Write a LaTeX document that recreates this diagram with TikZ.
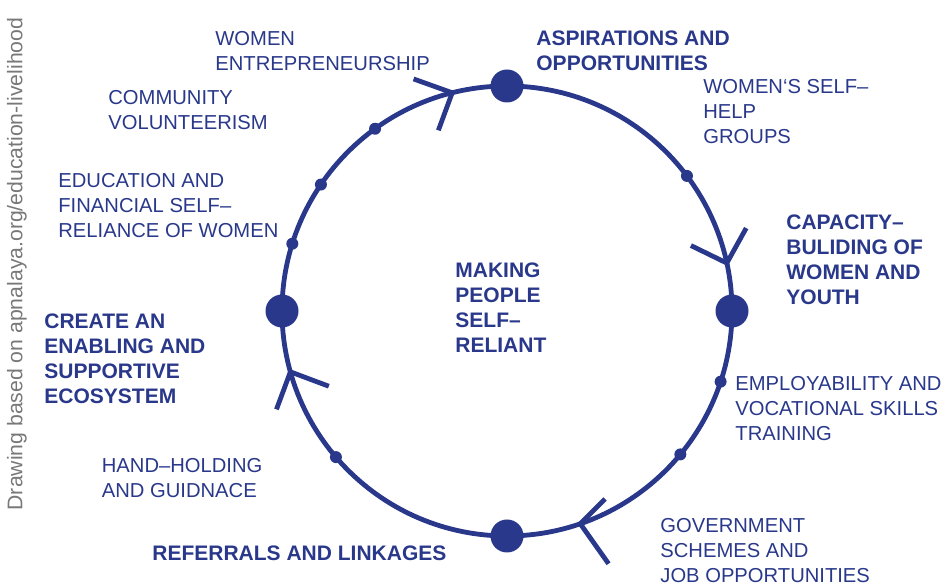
\documentclass[tikz,border=0pt]{standalone}
\usepackage{fontspec}
\setmainfont{Liberation Sans}
\definecolor{navy}{RGB}{41,56,138}
\definecolor{note}{RGB}{120,120,120}
\begin{document}
\begin{tikzpicture}[x=0.5pt, y=0.5pt, every node/.style={font=\fontsize{10.1}{12.5}\selectfont, text=navy, inner sep=0pt}]
  \tikzstyle{hub}=[circle,fill=navy,minimum size=16.5pt]
  \tikzstyle{pip}=[circle,fill=navy,minimum size=6pt]
  \tikzstyle{lbl}=[anchor=base west,align=left]
  \tikzstyle{head}=[lbl,font=\fontsize{10.5}{12.5}\selectfont\bfseries]
  \tikzstyle{arm}=[navy,line width=2.4pt]
  \useasboundingbox (0,0) rectangle (947,588);
  \coordinate (c) at (507,277);
  \draw[arm] (c) circle (225);
  \begin{scope}[shift={(c)}]
    \node[hub] (aspire) at (90:225) {};
    \node[hub] (capacity) at (0:225) {};
    \node[hub] (refer) at (-90:225) {};
    \node[hub] (enable) at (180:225) {};
    \node[pip] (p1) at (125.9:225) {};
    \node[pip] (p2) at (145.8:225) {};
    \node[pip] (p3) at (162.6:225) {};
    \node[pip] (p4) at (36.9:225) {};
    \node[pip] (p5) at (-18.3:225) {};
    \node[pip] (p6) at (-39.6:225) {};
    \node[pip] (p7) at (220.5:225) {};
    % open heads, clockwise
    \coordinate (t1) at (104.1:225);
    \coordinate (t2) at (12.3:225);
    \coordinate (t3) at (-71:225);
    \coordinate (t4) at (195.7:225);
    \draw[arm] ([shift={(249.8:40)}]t1) -- (t1) -- ++(160.3:41);
    \draw[arm] ([shift={(154:40)}]t2) -- (t2) -- ++(61:40);
    \draw[arm] ([shift={(45:35)}]t3) -- (t3) -- ++(-54.7:49);
    \draw[arm] ([shift={(249.6:40)}]t4) -- (t4) -- ++(339.5:41);
  \end{scope}
  % labels sit on the baseline of their last line
  \node[lbl] (entre) at (215,517) {WOMEN\\ENTREPRENEURSHIP};
  \node[head] (aspt) at (536,517) {ASPIRATIONS AND\\OPPORTUNITIES};
  \node[lbl] (shg) at (703,444) {WOMEN‘S SELF–\\HELP\\GROUPS};
  \node[lbl] (volun) at (108,458.5) {COMMUNITY\\VOLUNTEERISM};
  \node[lbl] (edu) at (58,350.5) {EDUCATION AND\\FINANCIAL SELF–\\RELIANCE OF WOMEN};
  \node[head] (capt) at (786,283.5) {CAPACITY–\\BULIDING OF\\WOMEN AND\\YOUTH};
  \node[head] (core) at (455,235) {MAKING\\PEOPLE\\SELF–\\RELIANT};
  \node[head] (enat) at (44,184) {CREATE AN\\ENABLING AND\\SUPPORTIVE\\ECOSYSTEM};
  \node[lbl] (skill) at (735,147) {EMPLOYABILITY AND\\VOCATIONAL SKILLS\\TRAINING};
  \node[lbl] (hand) at (101.5,90) {HAND–HOLDING\\AND GUIDNACE};
  \node[head] (refert) at (152,27.5) {REFERRALS AND LINKAGES};
  \node[lbl] (govt) at (660,5) {GOVERNMENT\\SCHEMES AND\\JOB OPPORTUNITIES};
  \node[rotate=90,text=note,font=\fontsize{10.6}{12}\selectfont] (src) at (17,324) {Drawing based on apnalaya.org/education-livelihood};
\end{tikzpicture}
\end{document}
